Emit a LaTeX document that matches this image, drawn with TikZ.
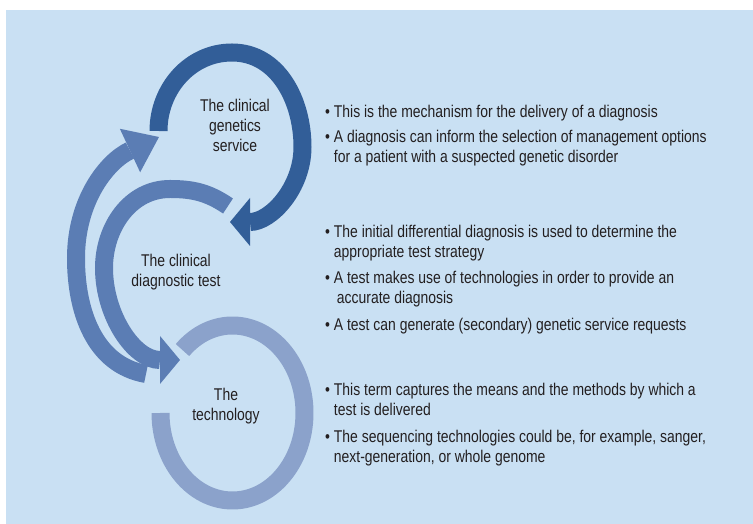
\documentclass[tikz,border=0pt]{standalone}
\usepackage{fontspec}
\setmainfont{Liberation Sans}[FakeStretch=0.82]
\usetikzlibrary{arrows.meta}
\definecolor{bgblue}{RGB}{201,224,243}
\definecolor{arcdark}{RGB}{50,94,152}
\definecolor{arcmid}{RGB}{91,125,180}
\definecolor{arclight}{RGB}{139,162,203}
\definecolor{txt}{RGB}{35,31,32}

\begin{document}
\begin{tikzpicture}[x=1pt, y=1pt, every node/.style={font=\fontsize{17}{20}\selectfont, text=txt}]
\tikzset{band/.style={line width=18pt}}
\tikzset{shorthead/.style={-{Triangle[length=20pt,width=48pt,line width=0pt]}}}
\tikzset{longhead/.style={-{Triangle[length=32pt,width=48pt,line width=0pt]}}}
\tikzset{lbl/.style={align=center, anchor=base}}
\tikzset{item/.style={align=left, anchor=base west, inner sep=0pt}}
\useasboundingbox (0,0) rectangle (753,524);
\fill[bgblue] (6,0) rectangle (753,514);
\coordinate (tc) at (232.5,111);
\draw[band, arclight] (tc) ++(134:72pt and 87.5pt) arc[start angle=134, end angle=-180, x radius=72pt, y radius=87.5pt];
\draw[band, arcmid, shorthead] (228,318) to[out=146,in=0] (170,335) to[out=180,in=90] (104,256) to[out=-90,in=180] (180,164);
\draw[band, arcmid, longhead] (146,150) to[out=170,in=-90] (76,266) to[out=90,in=205] (159,387);
\draw[band, arcdark, shorthead] (158.5,393) to[out=90,in=180] (232,471.5) to[out=0,in=90] (302.5,377) to[out=-90,in=0] (230,302);
\node[lbl] (gs) at (235,372) {The clinical\\genetics\\service};
\node[lbl] (dt) at (176,237) {The clinical\\diagnostic test};
\node[lbl] (tech) at (226,103) {The\\technology};
\node[item] (s1) at (325,406) {\textbullet\ This is the mechanism for the delivery of a diagnosis};
\node[item] (s2) at (325,361) {\textbullet\ A diagnosis can inform the selection of management options\\\hphantom{\textbullet\ }for a patient with a suspected genetic disorder};
\node[item] (t1) at (325,266) {\textbullet\ The initial differential diagnosis is used to determine the\\\hphantom{\textbullet\ }appropriate test strategy};
\node[item] (t2) at (325,220) {\textbullet\ A test makes use of technologies in order to provide an\\\hphantom{\textbullet\ }\hspace{3pt}accurate diagnosis};
\node[item] (t3) at (325,193) {\textbullet\ A test can generate (secondary) genetic service requests};
\node[item] (u1) at (325,108) {\textbullet\ This term captures the means and the methods by which a\\\hphantom{\textbullet\ }test is delivered};
\node[item] (u2) at (325,61) {\textbullet\ The sequencing technologies could be, for example, sanger,\\\hphantom{\textbullet\ }next-generation, or whole genome};
\end{tikzpicture}
\end{document}
